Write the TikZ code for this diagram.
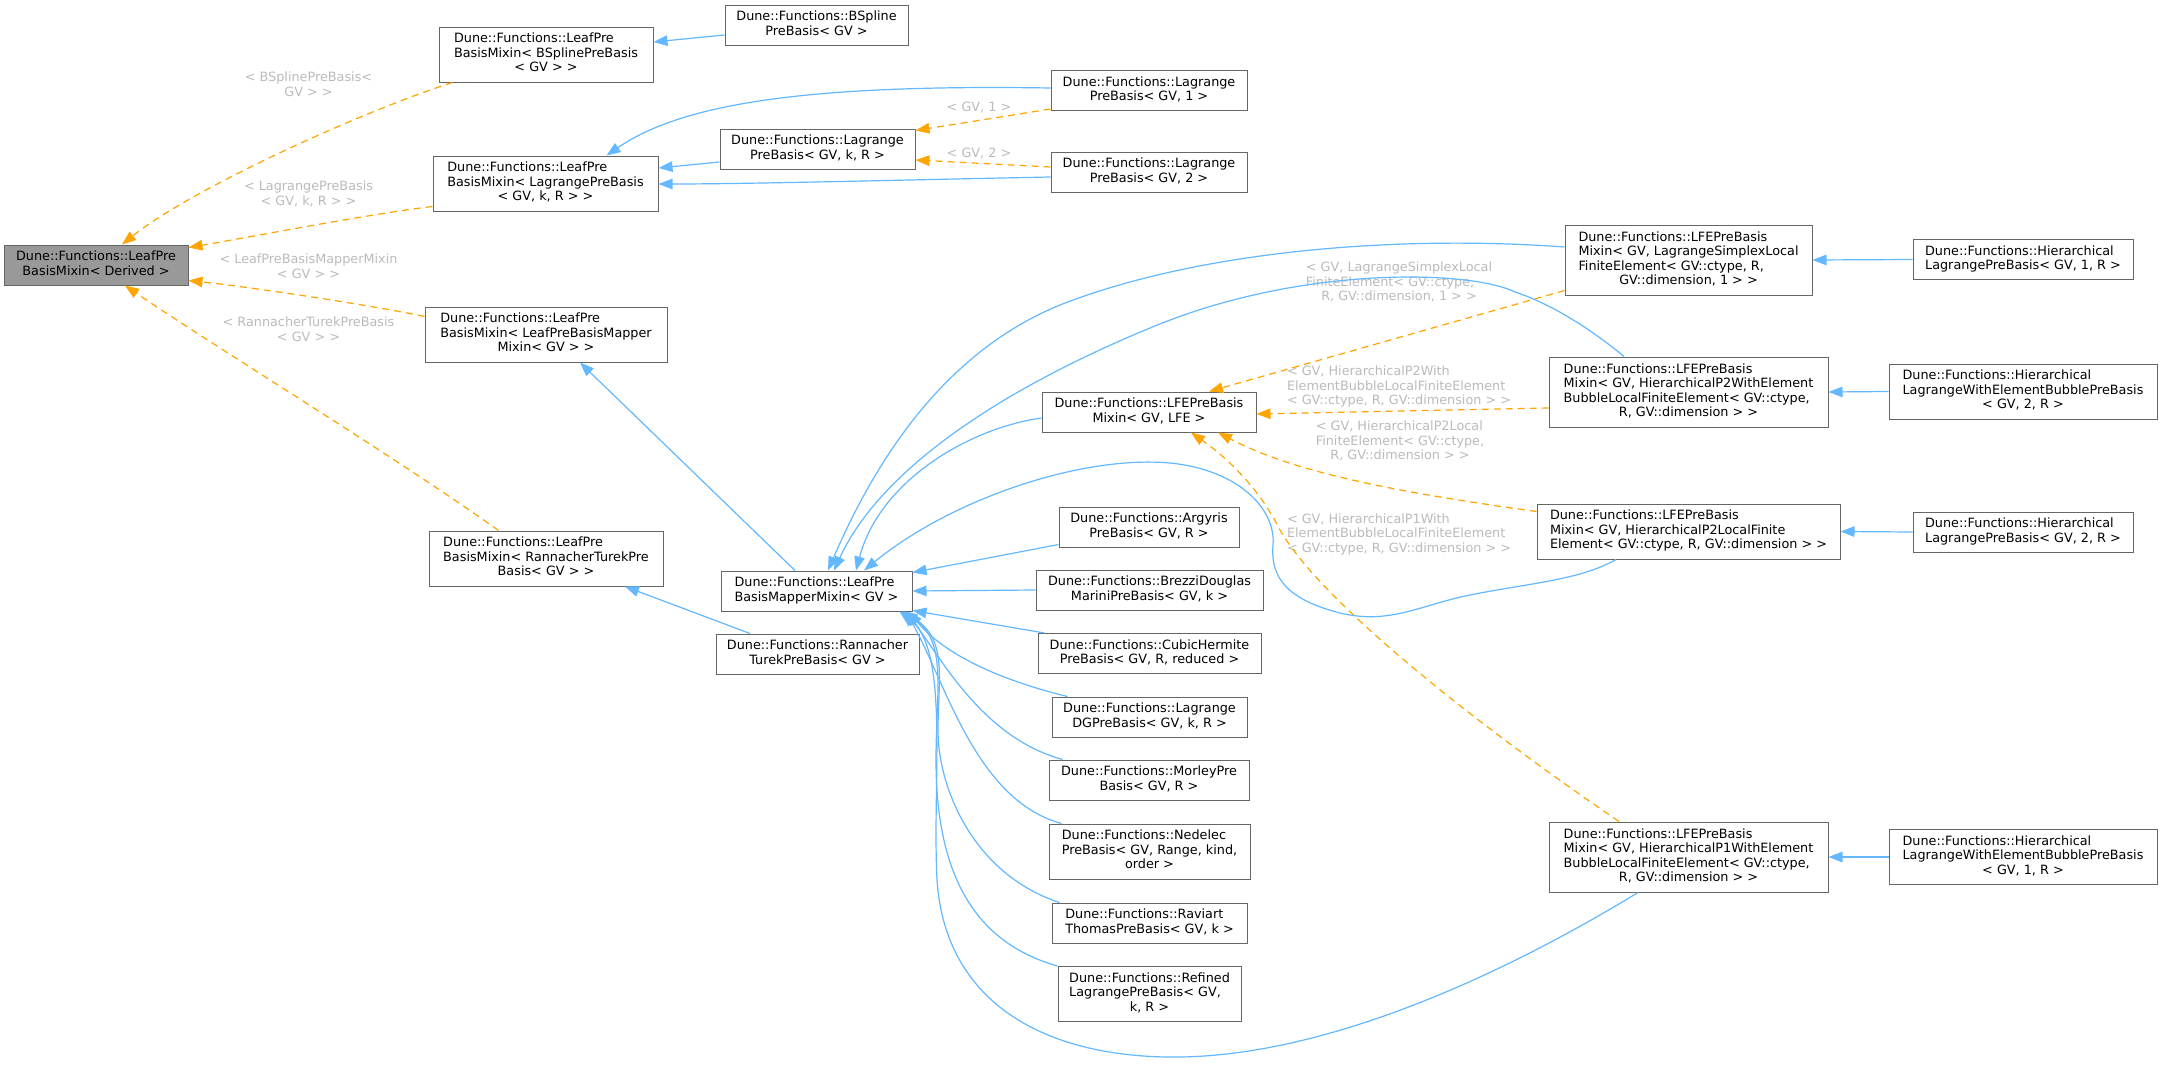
\documentclass[tikz,border=0pt]{standalone}
\usepackage{fontspec}
\newfontfamily\dvs{DejaVu Sans}
\usetikzlibrary{arrows.meta}
\definecolor{edgeblue}{HTML}{63B8FF}
\definecolor{tmplorange}{HTML}{FFA500}
\definecolor{boxborder}{HTML}{666666}
\definecolor{lblgray}{HTML}{BBBBBB}
\definecolor{derivedfill}{HTML}{999999}
\newcommand{\tb}[2]{\begin{tabular}{@{}l@{}}#1\multicolumn{1}{@{}c@{}}{#2}\end{tabular}}
\tikzset{
  cls/.style={draw=boxborder, fill=white, line width=1pt, inner sep=0pt, anchor=center},
  lbl/.style={text=lblgray, inner sep=0pt, anchor=center},
  inh/.style={draw=edgeblue, line width=1.2pt, -{Triangle[length=14pt,width=10.5pt,fill=edgeblue]}},
  tmpl/.style={draw=tmplorange, line width=1.2pt, dash pattern=on 7pt off 5pt, -{Triangle[length=14pt,width=10.5pt,fill=tmplorange]}}
}
\begin{document}
\begin{tikzpicture}[x=1pt,y=-1pt,font=\dvs\fontsize{12.8}{14.5}\selectfont]
\useasboundingbox (0,0) rectangle (2161,1068);
\fill[white] (0,0) rectangle (2161,1068);
% ---------- nodes ----------
\node[cls, fill=derivedfill, minimum width=184pt, minimum height=40pt] (derived) at (96,265) {\tb{Dune::Functions::LeafPre\\}{BasisMixin< Derived >}};
\node[cls, minimum width=214pt, minimum height=55pt] (mixB) at (546,54.5) {\tb{Dune::Functions::LeafPre\\BasisMixin< BSplinePreBasis\\}{< GV > >}};
\node[cls, minimum width=225pt, minimum height=55pt] (mixL) at (545.5,183.5) {\tb{Dune::Functions::LeafPre\\BasisMixin< LagrangePreBasis\\}{< GV, k, R > >}};
\node[cls, minimum width=242pt, minimum height=55pt] (mixM) at (546,334.5) {\tb{Dune::Functions::LeafPre\\BasisMixin< LeafPreBasisMapper\\}{Mixin< GV > >}};
\node[cls, minimum width=234pt, minimum height=55pt] (mixR) at (546,558.5) {\tb{Dune::Functions::LeafPre\\BasisMixin< RannacherTurekPre\\}{Basis< GV > >}};
\node[cls, minimum width=183pt, minimum height=40pt] (bspl) at (816.5,25) {\tb{Dune::Functions::BSpline\\}{PreBasis< GV >}};
\node[cls, minimum width=196pt, minimum height=40pt] (lag1) at (1149,90.5) {\tb{Dune::Functions::Lagrange\\}{PreBasis< GV, 1 >}};
\node[cls, minimum width=195pt, minimum height=40pt] (lagk) at (817.5,149) {\tb{Dune::Functions::Lagrange\\}{PreBasis< GV, k, R >}};
\node[cls, minimum width=196pt, minimum height=40pt] (lag2) at (1149,172) {\tb{Dune::Functions::Lagrange\\}{PreBasis< GV, 2 >}};
\node[cls, minimum width=214pt, minimum height=40pt] (lfe) at (1149,412) {\tb{Dune::Functions::LFEPreBasis\\}{Mixin< GV, LFE >}};
\node[cls, minimum width=191pt, minimum height=40pt] (mapper) at (816.5,591) {\tb{Dune::Functions::LeafPre\\}{BasisMapperMixin< GV >}};
\node[cls, minimum width=203pt, minimum height=40pt] (rtpb) at (817.5,654) {\tb{Dune::Functions::Rannacher\\}{TurekPreBasis< GV >}};
\node[cls, minimum width=180pt, minimum height=40pt] (argy) at (1149,527) {\tb{Dune::Functions::Argyris\\}{PreBasis< GV, R >}};
\node[cls, minimum width=227pt, minimum height=40pt] (brez) at (1149.5,590) {\tb{Dune::Functions::BrezziDouglas\\}{MariniPreBasis< GV, k >}};
\node[cls, minimum width=223pt, minimum height=40pt] (cubic) at (1149.5,653.5) {\tb{Dune::Functions::CubicHermite\\}{PreBasis< GV, R, reduced >}};
\node[cls, minimum width=195pt, minimum height=40pt] (ldg) at (1149.5,717) {\tb{Dune::Functions::Lagrange\\}{DGPreBasis< GV, k, R >}};
\node[cls, minimum width=200pt, minimum height=40pt] (morley) at (1149,780) {\tb{Dune::Functions::MorleyPre\\}{Basis< GV, R >}};
\node[cls, minimum width=201pt, minimum height=55pt] (nedelec) at (1149.5,851.5) {\tb{Dune::Functions::Nedelec\\PreBasis< GV, Range, kind,\\}{order >}};
\node[cls, minimum width=195pt, minimum height=40pt] (raviart) at (1149.5,923) {\tb{Dune::Functions::Raviart\\}{ThomasPreBasis< GV, k >}};
\node[cls, minimum width=183pt, minimum height=55pt] (refined) at (1149.5,994) {\tb{Dune::Functions::Refined\\LagrangePreBasis< GV,\\}{k, R >}};
\node[cls, minimum width=247pt, minimum height=70pt] (lfeLS) at (1688.5,260) {\tb{Dune::Functions::LFEPreBasis\\Mixin< GV, LagrangeSimplexLocal\\FiniteElement< GV::ctype, R,\\}{GV::dimension, 1 > >}};
\node[cls, minimum width=279pt, minimum height=70pt] (lfeP2W) at (1688.5,392) {\tb{Dune::Functions::LFEPreBasis\\Mixin< GV, HierarchicalP2WithElement\\BubbleLocalFiniteElement< GV::ctype,\\}{R, GV::dimension > >}};
\node[cls, minimum width=303pt, minimum height=55pt] (lfeP2L) at (1688.5,531.5) {\tb{Dune::Functions::LFEPreBasis\\Mixin< GV, HierarchicalP2LocalFinite\\}{Element< GV::ctype, R, GV::dimension > >}};
\node[cls, minimum width=279pt, minimum height=70pt] (lfeP1W) at (1688.5,857) {\tb{Dune::Functions::LFEPreBasis\\Mixin< GV, HierarchicalP1WithElement\\BubbleLocalFiniteElement< GV::ctype,\\}{R, GV::dimension > >}};
\node[cls, minimum width=220pt, minimum height=40pt] (hier1) at (2023,259.5) {\tb{Dune::Functions::Hierarchical\\}{LagrangePreBasis< GV, 1, R >}};
\node[cls, minimum width=268pt, minimum height=55pt] (hwb2) at (2023,391.5) {\tb{Dune::Functions::Hierarchical\\LagrangeWithElementBubblePreBasis\\}{< GV, 2, R >}};
\node[cls, minimum width=220pt, minimum height=40pt] (hier2) at (2023,532) {\tb{Dune::Functions::Hierarchical\\}{LagrangePreBasis< GV, 2, R >}};
\node[cls, minimum width=268pt, minimum height=55pt] (hwb1) at (2023,857) {\tb{Dune::Functions::Hierarchical\\LagrangeWithElementBubblePreBasis\\}{< GV, 1, R >}};
% ---------- labels ----------
\node[lbl] (l1) at (308.5,86) {\tb{< BSplinePreBasis<\\}{GV > >}};
\node[lbl] (l2) at (308.5,195) {\tb{< LagrangePreBasis\\}{< GV, k, R > >}};
\node[lbl] (l3) at (308.5,268) {\tb{< LeafPreBasisMapperMixin\\}{< GV > >}};
\node[lbl] (l4) at (308.5,331) {\tb{< RannacherTurekPreBasis\\}{< GV > >}};
\node[lbl] (l5) at (979,107) {< GV, 1 >};
\node[lbl] (l6) at (979,153) {< GV, 2 >};
\node[lbl] (l7) at (1399,283.5) {\tb{< GV, LagrangeSimplexLocal\\FiniteElement< GV::ctype,\\}{R, GV::dimension, 1 > >}};
\node[lbl] (l8) at (1399,387.5) {\tb{< GV, HierarchicalP2With\\ElementBubbleLocalFiniteElement\\}{< GV::ctype, R, GV::dimension > >}};
\node[lbl] (l9) at (1400,442.5) {\tb{< GV, HierarchicalP2Local\\FiniteElement< GV::ctype,\\}{R, GV::dimension > >}};
\node[lbl] (l10) at (1399,535) {\tb{< GV, HierarchicalP1With\\ElementBubbleLocalFiniteElement\\}{< GV::ctype, R, GV::dimension > >}};
% ---------- template edges to Derived ----------
\draw[tmpl] ([xshift=14pt]mixB.south west) .. controls (360,112) and (190,190) .. ([xshift=26pt]derived.north);
\draw[tmpl] ([yshift=5pt]mixL.south west) .. controls (375,213) and (245,238) .. ([yshift=-3pt]derived.north east);
\draw[tmpl] ([yshift=-10pt]mixM.north west) .. controls (370,305) and (250,287) .. ([yshift=5pt]derived.south east);
\draw[tmpl] ([xshift=70pt]mixR.north west) .. controls (400,460) and (220,350) .. ([xshift=29pt]derived.south);
% ---------- top group ----------
\draw[inh] ([yshift=-10pt]bspl.west) -- ([yshift=12.5pt]mixB.east);
\draw[inh] ([yshift=2.5pt]lag1.west) .. controls (800,84) and (680,105) .. ([xshift=61pt]mixL.north);
\draw[inh] ([yshift=-13pt]lagk.west) -- ([yshift=15.5pt]mixL.east);
\draw[inh] ([yshift=-5pt]lag2.west) .. controls (900,180) and (750,184) .. ([yshift=-0.5pt]mixL.east);
\draw[tmpl] ([yshift=2pt]lag1.south west) -- ([yshift=-2pt]lagk.north east);
\draw[tmpl] ([yshift=5pt]lag2.west) -- ([yshift=-11pt]lagk.east);
% ---------- mapper group ----------
\draw[inh] ([xshift=-21.5pt]mapper.north) -- ([xshift=34pt]mixM.south);
\draw[inh] ([xshift=-67.5pt]rtpb.north) -- ([xshift=79pt]mixR.south);
\draw[inh] ([yshift=-6pt]lfe.west) .. controls (970,428) and (880,480) .. ([xshift=39.5pt]mapper.north);
\draw[inh] ([yshift=13pt]lfeLS.west) .. controls (1400,235) and (1200,250) .. (1060,305) .. controls (950,350) and (880,450) .. ([xshift=11.5pt]mapper.north);
\draw[inh] ([xshift=-64.5pt]lfeP2W.north) .. controls (1580,320) and (1540,300) .. (1515,292) .. controls (1470,270) and (1300,265) .. (1150,328) .. controls (1000,390) and (880,470) .. ([xshift=17.5pt]mapper.north);
\draw[inh] ([xshift=-72.5pt]lfeP2L.south) .. controls (1580,580) and (1530,583) .. (1470,595) .. controls (1420,605) and (1390,625) .. (1340,613) .. controls (1290,600) and (1270,580) .. (1273,545) .. controls (1276,510) and (1240,470) .. (1170,463) .. controls (1080,455) and (950,500) .. ([xshift=47.5pt]mapper.north);
\draw[inh] ([yshift=3pt]argy.south west) -- ([yshift=-2pt]mapper.north east);
\draw[inh] (brez.west) -- (mapper.east);
\draw[inh] ([xshift=7pt]cubic.north west) -- ([yshift=1pt]mapper.south east);
\draw[inh] ([xshift=16pt]ldg.north west) .. controls (1000,680) and (945,655) .. ([xshift=-4pt]mapper.south east);
\draw[inh] ([xshift=14pt]morley.north west) .. controls (985,738) and (945,665) .. ([xshift=-6pt]mapper.south east);
\draw[inh] ([xshift=13pt]nedelec.north west) .. controls (975,800) and (945,680) .. ([xshift=-7pt]mapper.south east);
\draw[inh] ([xshift=8pt]raviart.north west) .. controls (975,875) and (938,790) .. (938,730) .. controls (938,680) and (948,640) .. ([xshift=-9pt]mapper.south east);
\draw[inh] (refined.north west) .. controls (965,940) and (936,860) .. (936,760) .. controls (936,690) and (948,640) .. ([xshift=-11pt]mapper.south east);
\draw[inh] ([xshift=-50.5pt]lfeP1W.south) .. controls (1560,940) and (1350,1060) .. (1167,1057) .. controls (1040,1055) and (945,1000) .. (937,880) .. controls (932,780) and (950,650) .. ([xshift=-13pt]mapper.south east);
% ---------- LFE template edges ----------
\draw[tmpl] ([yshift=5pt]lfeLS.south west) -- ([xshift=60pt]lfe.north);
\draw[tmpl] ([yshift=-16pt]lfeP2W.west) -- ([yshift=-2pt]lfe.east);
\draw[tmpl] ([yshift=-8pt]lfeP2L.north west) .. controls (1380,490) and (1290,470) .. ([xshift=69pt]lfe.south);
\draw[tmpl] ([xshift=-69.5pt]lfeP1W.north) .. controls (1470,720) and (1320,600) .. (1280,530) .. controls (1260,490) and (1230,460) .. ([xshift=42pt]lfe.south);
% ---------- right column ----------
\draw[inh] (hier1.west) -- (lfeLS.east);
\draw[inh] (hwb2.west) -- (lfeP2W.east);
\draw[inh] (hier2.west) -- (lfeP2L.east);
\draw[inh] (hwb1.west) -- (lfeP1W.east);
\end{tikzpicture}
\end{document}
